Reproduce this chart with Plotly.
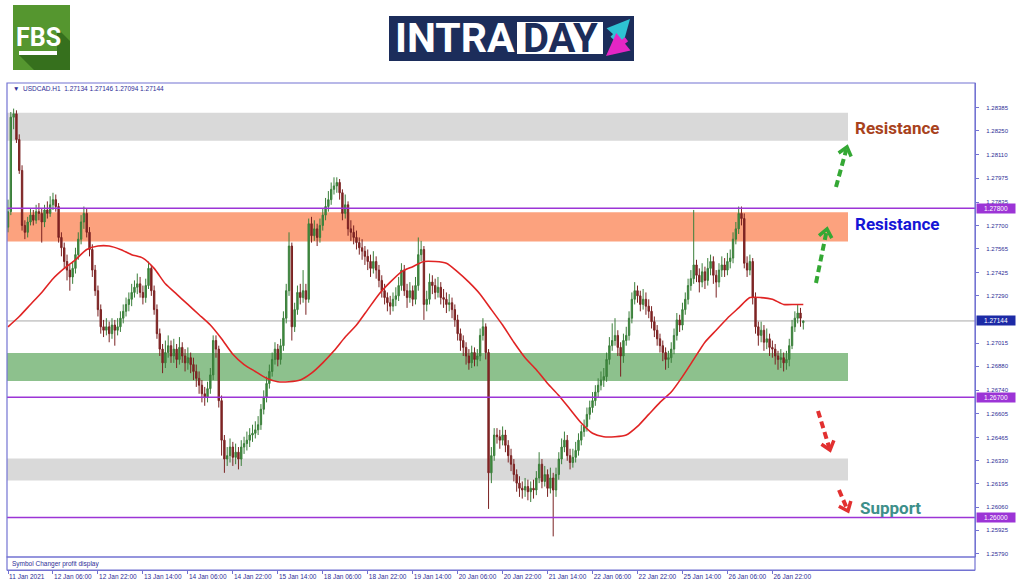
import plotly.graph_objects as go

# ---------------- data ----------------
symbol_header = "▼  USDCAD.H1  1.27134 1.27146 1.27094 1.27144"

opens = [
1.2769,1.2778,1.2833,1.2835,1.2820,1.2802,1.2770,1.2766,1.2772,1.2776,
1.2773,1.2778,1.2777,1.2772,1.2779,1.2777,1.2782,1.2785,1.2781,1.2763,
1.2757,1.2749,1.2744,1.2740,1.2745,1.2753,1.2762,1.2772,1.2777,1.2766,
1.2756,1.2744,1.2732,1.2721,1.2711,1.2709,1.2711,1.2707,1.2712,1.2709,
1.2711,1.2716,1.2720,1.2724,1.2727,1.2731,1.2734,1.2736,1.2731,1.2728,
1.2735,1.2745,1.2732,1.2721,1.2707,1.2698,1.2690,1.2696,1.2700,1.2694,
1.2698,1.2692,1.2699,1.2694,1.2690,1.2693,1.2689,1.2685,1.2681,1.2677,
1.2672,1.2670,1.2675,1.2683,1.2703,1.2698,1.2668,1.2645,1.2634,1.2636,
1.2641,1.2635,1.2638,1.2634,1.2641,1.2643,1.2645,1.2648,1.2649,1.2651,
1.2654,1.2663,1.2670,1.2678,1.2685,1.2692,1.2698,1.2692,1.2700,1.2716,
1.2732,1.2758,1.2711,1.2721,1.2731,1.2728,1.2732,1.2727,1.2771,1.2764,
1.2768,1.2763,1.2770,1.2776,1.2781,1.2785,1.2791,1.2793,1.2795,1.2789,
1.2777,1.2782,1.2768,1.2766,1.2763,1.2760,1.2757,1.2755,1.2752,1.2749,
1.2745,1.2749,1.2744,1.2738,1.2732,1.2728,1.2725,1.2723,1.2727,1.2729,
1.2735,1.2744,1.2732,1.2728,1.2732,1.2727,1.2735,1.2753,1.2756,1.2724,
1.2727,1.2737,1.2735,1.2731,1.2734,1.2728,1.2727,1.2724,1.2725,1.2721,
1.2715,1.2707,1.2703,1.2699,1.2694,1.2690,1.2696,1.2692,1.2694,1.2706,
1.2711,1.2696,1.2626,1.2636,1.2648,1.2647,1.2645,1.2648,1.2642,1.2636,
1.2631,1.2625,1.2620,1.2617,1.2616,1.2618,1.2615,1.2617,1.2616,1.2623,
1.2631,1.2621,1.2625,1.2617,1.2623,1.2616,1.2625,1.2634,1.2641,1.2645,
1.2636,1.2632,1.2635,1.2639,1.2645,1.2650,1.2653,1.2660,1.2664,1.2668,
1.2673,1.2677,1.2680,1.2682,1.2692,1.2700,1.2703,1.2706,1.2699,1.2694,
1.2703,1.2706,1.2716,1.2727,1.2732,1.2729,1.2724,1.2727,1.2723,1.2720,
1.2714,1.2709,1.2704,1.2700,1.2696,1.2692,1.2693,1.2698,1.2706,1.2715,
1.2712,1.2721,1.2727,1.2735,1.2739,1.2747,1.2741,1.2737,1.2743,1.2738,
1.2745,1.2749,1.2741,1.2737,1.2744,1.2747,1.2744,1.2749,1.2751,1.2762,
1.2768,1.2777,1.2774,1.2748,1.2744,1.2749,1.2728,1.2711,1.2706,1.2709,
1.2702,1.2704,1.2699,1.2698,1.2694,1.2692,1.2693,1.2690,1.2692,1.2700,
1.2711,1.2716,1.2719,1.27134]

highs = [
1.2785,1.2836,1.2838,1.2837,1.2823,1.2805,1.2773,1.2775,1.2780,1.2779,
1.2782,1.2783,1.2780,1.2782,1.2784,1.2787,1.2789,1.2788,1.2783,1.2766,
1.2760,1.2753,1.2747,1.2749,1.2757,1.2766,1.2776,1.2781,1.2780,1.2769,
1.2759,1.2747,1.2735,1.2724,1.2715,1.2716,1.2714,1.2716,1.2715,1.2716,
1.2720,1.2724,1.2728,1.2731,1.2736,1.2738,1.2742,1.2740,1.2735,1.2739,
1.2749,1.2747,1.2735,1.2724,1.2710,1.2701,1.2703,1.2706,1.2703,1.2704,
1.2701,1.2705,1.2702,1.2698,1.2699,1.2696,1.2693,1.2689,1.2685,1.2680,
1.2676,1.2679,1.2687,1.2706,1.2706,1.2700,1.2671,1.2648,1.2641,1.2646,
1.2644,1.2643,1.2641,1.2645,1.2647,1.2650,1.2652,1.2654,1.2656,1.2659,
1.2666,1.2674,1.2682,1.2689,1.2696,1.2702,1.2701,1.2704,1.2720,1.2736,
1.2766,1.2760,1.2725,1.2735,1.2736,1.2744,1.2736,1.2774,1.2775,1.2773,
1.2771,1.2774,1.2780,1.2786,1.2790,1.2795,1.2798,1.2798,1.2797,1.2791,
1.2788,1.2784,1.2773,1.2770,1.2767,1.2763,1.2762,1.2758,1.2756,1.2753,
1.2755,1.2752,1.2747,1.2741,1.2736,1.2731,1.2729,1.2731,1.2734,1.2740,
1.2748,1.2747,1.2736,1.2737,1.2735,1.2740,1.2763,1.2761,1.2758,1.2732,
1.2742,1.2741,1.2739,1.2740,1.2737,1.2733,1.2731,1.2730,1.2728,1.2724,
1.2718,1.2710,1.2706,1.2702,1.2698,1.2700,1.2699,1.2698,1.2710,1.2716,
1.2713,1.2698,1.2641,1.2652,1.2652,1.2651,1.2653,1.2651,1.2645,1.2640,
1.2634,1.2628,1.2624,1.2621,1.2623,1.2622,1.2621,1.2622,1.2627,1.2638,
1.2634,1.2630,1.2628,1.2629,1.2626,1.2629,1.2638,1.2646,1.2650,1.2648,
1.2640,1.2640,1.2644,1.2649,1.2654,1.2657,1.2664,1.2668,1.2673,1.2677,
1.2681,1.2685,1.2687,1.2696,1.2705,1.2713,1.2716,1.2709,1.2702,1.2707,
1.2711,1.2720,1.2731,1.2737,1.2735,1.2732,1.2733,1.2731,1.2727,1.2723,
1.2717,1.2712,1.2707,1.2703,1.2699,1.2697,1.2702,1.2710,1.2719,1.2718,
1.2725,1.2731,1.2739,1.2744,1.2779,1.2750,1.2745,1.2748,1.2746,1.2751,
1.2753,1.2752,1.2744,1.2748,1.2752,1.2751,1.2754,1.2756,1.2766,1.2772,
1.2781,1.2781,1.2777,1.2752,1.2753,1.2751,1.2731,1.2714,1.2714,1.2712,
1.2710,1.2707,1.2703,1.2701,1.2697,1.2698,1.2696,1.2697,1.2704,1.2715,
1.2720,1.2724,1.2722,1.27146]

lows = [
1.2766,1.2776,1.2826,1.2818,1.2800,1.2767,1.2762,1.2763,1.2770,1.2770,
1.2771,1.2773,1.2760,1.2769,1.2774,1.2775,1.2779,1.2778,1.2760,1.2752,
1.2745,1.2738,1.2732,1.2736,1.2742,1.2750,1.2759,1.2768,1.2763,1.2752,
1.2740,1.2729,1.2717,1.2707,1.2705,1.2706,1.2702,1.2704,1.2700,1.2706,
1.2708,1.2713,1.2717,1.2720,1.2723,1.2728,1.2730,1.2728,1.2724,1.2725,
1.2733,1.2729,1.2718,1.2704,1.2694,1.2684,1.2687,1.2693,1.2690,1.2690,
1.2687,1.2689,1.2690,1.2685,1.2686,1.2684,1.2680,1.2676,1.2672,1.2667,
1.2665,1.2667,1.2672,1.2680,1.2693,1.2664,1.2636,1.2626,1.2630,1.2632,
1.2630,1.2631,1.2628,1.2630,1.2637,1.2639,1.2641,1.2644,1.2646,1.2648,
1.2651,1.2660,1.2667,1.2675,1.2682,1.2689,1.2688,1.2689,1.2697,1.2713,
1.2729,1.2703,1.2708,1.2718,1.2724,1.2725,1.2718,1.2725,1.2760,1.2761,
1.2758,1.2760,1.2767,1.2773,1.2778,1.2782,1.2788,1.2789,1.2785,1.2773,
1.2774,1.2764,1.2761,1.2759,1.2756,1.2753,1.2750,1.2747,1.2744,1.2740,
1.2742,1.2739,1.2734,1.2728,1.2724,1.2720,1.2718,1.2720,1.2723,1.2726,
1.2732,1.2729,1.2722,1.2725,1.2723,1.2724,1.2732,1.2749,1.2715,1.2720,
1.2724,1.2730,1.2727,1.2728,1.2724,1.2722,1.2719,1.2720,1.2716,1.2711,
1.2703,1.2697,1.2694,1.2689,1.2686,1.2687,1.2688,1.2688,1.2691,1.2703,
1.2692,1.2605,1.2620,1.2633,1.2643,1.2640,1.2642,1.2638,1.2632,1.2627,
1.2621,1.2615,1.2612,1.2611,1.2612,1.2610,1.2609,1.2611,1.2613,1.2620,
1.2617,1.2618,1.2612,1.2614,1.2589,1.2612,1.2622,1.2631,1.2638,1.2633,
1.2628,1.2629,1.2632,1.2636,1.2642,1.2647,1.2650,1.2657,1.2661,1.2665,
1.2670,1.2674,1.2676,1.2679,1.2689,1.2697,1.2700,1.2694,1.2682,1.2690,
1.2700,1.2703,1.2713,1.2724,1.2725,1.2720,1.2721,1.2718,1.2716,1.2710,
1.2705,1.2700,1.2696,1.2691,1.2686,1.2687,1.2690,1.2695,1.2703,1.2708,
1.2709,1.2718,1.2724,1.2732,1.2736,1.2737,1.2731,1.2734,1.2733,1.2735,
1.2741,1.2736,1.2728,1.2734,1.2740,1.2740,1.2741,1.2745,1.2748,1.2759,
1.2765,1.2770,1.2745,1.2740,1.2741,1.2724,1.2707,1.2700,1.2702,1.2697,
1.2698,1.2694,1.2693,1.2689,1.2686,1.2687,1.2685,1.2686,1.2688,1.2698,
1.2708,1.2713,1.2711,1.27094]

closes = [
1.2778,1.2833,1.2835,1.2820,1.2802,1.2770,1.2766,1.2772,1.2776,1.2773,
1.2778,1.2777,1.2772,1.2779,1.2777,1.2782,1.2785,1.2781,1.2763,1.2757,
1.2749,1.2744,1.2740,1.2745,1.2753,1.2762,1.2772,1.2777,1.2766,1.2756,
1.2744,1.2732,1.2721,1.2711,1.2709,1.2711,1.2707,1.2712,1.2709,1.2711,
1.2716,1.2720,1.2724,1.2727,1.2731,1.2734,1.2736,1.2731,1.2728,1.2735,
1.2745,1.2732,1.2721,1.2707,1.2698,1.2690,1.2696,1.2700,1.2694,1.2698,
1.2692,1.2699,1.2694,1.2690,1.2693,1.2689,1.2685,1.2681,1.2677,1.2672,
1.2670,1.2675,1.2683,1.2703,1.2698,1.2668,1.2645,1.2634,1.2636,1.2641,
1.2635,1.2638,1.2634,1.2641,1.2643,1.2645,1.2648,1.2649,1.2651,1.2654,
1.2663,1.2670,1.2678,1.2685,1.2692,1.2698,1.2692,1.2700,1.2716,1.2732,
1.2758,1.2711,1.2721,1.2731,1.2728,1.2732,1.2727,1.2771,1.2764,1.2768,
1.2763,1.2770,1.2776,1.2781,1.2785,1.2791,1.2793,1.2795,1.2789,1.2777,
1.2782,1.2768,1.2766,1.2763,1.2760,1.2757,1.2755,1.2752,1.2749,1.2745,
1.2749,1.2744,1.2738,1.2732,1.2728,1.2725,1.2723,1.2727,1.2729,1.2735,
1.2744,1.2732,1.2728,1.2732,1.2727,1.2735,1.2753,1.2756,1.2724,1.2727,
1.2737,1.2735,1.2731,1.2734,1.2728,1.2727,1.2724,1.2725,1.2721,1.2715,
1.2707,1.2703,1.2699,1.2694,1.2690,1.2696,1.2692,1.2694,1.2706,1.2711,
1.2696,1.2626,1.2636,1.2648,1.2647,1.2645,1.2648,1.2642,1.2636,1.2631,
1.2625,1.2620,1.2617,1.2616,1.2618,1.2615,1.2617,1.2616,1.2623,1.2631,
1.2621,1.2625,1.2617,1.2623,1.2616,1.2625,1.2634,1.2641,1.2645,1.2636,
1.2632,1.2635,1.2639,1.2645,1.2650,1.2653,1.2660,1.2664,1.2668,1.2673,
1.2677,1.2680,1.2682,1.2692,1.2700,1.2703,1.2706,1.2699,1.2694,1.2703,
1.2706,1.2716,1.2727,1.2732,1.2729,1.2724,1.2727,1.2723,1.2720,1.2714,
1.2709,1.2704,1.2700,1.2696,1.2692,1.2693,1.2698,1.2706,1.2715,1.2712,
1.2721,1.2727,1.2735,1.2739,1.2747,1.2741,1.2737,1.2743,1.2738,1.2745,
1.2749,1.2741,1.2737,1.2744,1.2747,1.2744,1.2749,1.2751,1.2762,1.2768,
1.2777,1.2774,1.2748,1.2744,1.2749,1.2728,1.2711,1.2706,1.2709,1.2702,
1.2704,1.2699,1.2698,1.2694,1.2692,1.2693,1.2690,1.2692,1.2700,1.2711,
1.2716,1.2719,1.2716,1.27144]

bar_index = list(range(len(closes)))

# moving average (red line), read every 4th bar
ma_bars = [0,4,8,12,16,20,24,28,32,36,40,44,48,52,56,60,64,68,72,76,80,84,88,92,
           96,100,104,108,112,116,120,124,128,132,136,140,144,148,152,156,160,164,
           168,172,176,180,184,188,192,196,200,204,208,212,216,220,224,228,232,236,
           240,244,248,252,256,260,264,268,272,276,280,283]
ma_values = [1.2711,1.2717,1.2724,1.2731,1.2739,1.2745,1.2750,1.2756,1.2758,1.2758,
             1.2756,1.2753,1.2751,1.2745,1.2736,1.2730,1.2724,1.2718,1.2712,1.2704,
             1.2695,1.2689,1.2685,1.2681,1.2679,1.2679,1.2680,1.2684,1.2690,1.2697,
             1.2705,1.2712,1.2721,1.2730,1.2737,1.2743,1.2746,1.2749,1.2749,1.2748,
             1.2743,1.2737,1.2730,1.2721,1.2712,1.2702,1.2693,1.2686,1.2678,1.2671,
             1.2663,1.2655,1.2649,1.2647,1.2647,1.2648,1.2653,1.2660,1.2667,1.2673,
             1.2682,1.2692,1.2702,1.2709,1.2716,1.2722,1.2728,1.2728,1.2727,1.2724,
             1.2724,1.2724]

tick_bars = [0,16,32,48,64,80,96,112,128,144,160,176,192,208,224,240,256,272]
tick_labels = ["11 Jan 2021","12 Jan 06:00","12 Jan 22:00","13 Jan 14:00",
               "14 Jan 06:00","14 Jan 22:00","15 Jan 14:00","18 Jan 06:00",
               "18 Jan 22:00","19 Jan 14:00","20 Jan 06:00","20 Jan 22:00",
               "21 Jan 14:00","22 Jan 06:00","22 Jan 22:00","25 Jan 14:00",
               "26 Jan 06:00","26 Jan 22:00"]

price_ticks = [1.28385,1.28250,1.28110,1.27975,1.27835,1.27700,1.27565,1.27425,
               1.27290,1.27015,1.26880,1.26740,1.26605,1.26465,1.26330,1.26195,
               1.26060,1.25925,1.25790]

level_lines = [1.27800, 1.26700, 1.26000]
current_price = 1.27144

zone_lows  = [1.28193, 1.27607, 1.26794, 1.26215]
zone_highs = [1.28356, 1.27776, 1.26957, 1.26343]
zone_colors = ["#d9d9d9", "#fca27e", "#8dc18d", "#d9d9d9"]

zone_labels = ["Resistance", "Resistance", "Support"]
zone_label_colors = ["#a8421c", "#1515d6", "#3d8f8a"]

# ---------------- layout geometry ----------------
W, H = 1024, 587
PL, PR, PT, PB = 7, 975, 83, 570
PW, PH = PR - PL, PB - PT
MAIN_BOTTOM_PX = 557

def px(x):
    return (x - PL) / PW

def py(y):
    return (PB - y) / PH

main_dom0 = py(MAIN_BOTTOM_PX)
FRAME = "#7373d2"
TXT = "#2e2e96"
PURPLE = "#9c34d6"

fig = go.Figure()

fig.add_trace(go.Candlestick(
    x=bar_index, open=opens, high=highs, low=lows, close=closes,
    increasing=dict(line=dict(color="#3b7f3b", width=1), fillcolor="#3f8f3f"),
    decreasing=dict(line=dict(color="#7a2222", width=1), fillcolor="#862525"),
    whiskerwidth=0, hoverinfo="skip", showlegend=False,
))

fig.add_trace(go.Scatter(
    x=ma_bars, y=ma_values, mode="lines",
    line=dict(color="#e02424", width=1.6, shape="spline", smoothing=0.6),
    hoverinfo="skip", showlegend=False,
))

shapes = []
for lo, hi, col in zip(zone_lows, zone_highs, zone_colors):
    shapes.append(dict(type="rect", xref="paper", yref="y", x0=0, x1=px(848),
                       y0=lo, y1=hi, fillcolor=col, line=dict(width=0), layer="below"))
shapes.append(dict(type="line", xref="paper", yref="y", x0=0, x1=1,
                   y0=current_price, y1=current_price,
                   line=dict(color="#a8a8a8", width=1), layer="below"))
for lv in level_lines:
    shapes.append(dict(type="line", xref="paper", yref="y", x0=0, x1=1, y0=lv, y1=lv,
                       line=dict(color=PURPLE, width=1.6)))
shapes.append(dict(type="rect", xref="paper", yref="paper", x0=0, x1=1, y0=main_dom0, y1=1,
                   line=dict(color=FRAME, width=1.2)))
shapes.append(dict(type="rect", xref="paper", yref="paper", x0=0, x1=1, y0=0, y1=main_dom0,
                   line=dict(color=FRAME, width=1.2)))

arrows = [((836, 187), (847, 147), "#34a834"),
          ((816, 283), (827, 229), "#34a834"),
          ((818, 411), (830, 450), "#e23030"),
          ((839, 490), (848, 511), "#e23030")]
for (tx, ty), (hx, hy), col in arrows:
    dx, dy = hx - tx, hy - ty
    L = (dx * dx + dy * dy) ** 0.5
    ux, uy = dx / L, dy / L
    ex, ey = hx - ux * 3, hy - uy * 3
    shapes.append(dict(type="line", xref="paper", yref="paper",
                       x0=px(tx), y0=py(ty), x1=px(ex), y1=py(ey),
                       line=dict(color=col, width=4, dash="7px,4px")))
    back, half = 8, 6.5
    p1 = (hx - ux * back - uy * half, hy - uy * back + ux * half)
    p3 = (hx - ux * back + uy * half, hy - uy * back - ux * half)
    path = "M {:.5f},{:.5f} L {:.5f},{:.5f} L {:.5f},{:.5f}".format(
        px(p1[0]), py(p1[1]), px(hx), py(hy), px(p3[0]), py(p3[1]))
    shapes.append(dict(type="path", xref="paper", yref="paper", path=path,
                       line=dict(color=col, width=3.5)))

# FBS logo
shapes.append(dict(type="rect", xref="paper", yref="paper", x0=px(13), x1=px(70),
                   y0=py(70), y1=py(5), fillcolor="#55962f", line=dict(width=0)))
shadow = "M {},{} L {},{} L {},{} L {},{} L {},{} L {},{} Z".format(
    px(57), py(28), px(70), py(41), px(70), py(70), px(34), py(70), px(19), py(55), px(57), py(55))
shapes.append(dict(type="path", xref="paper", yref="paper", path=shadow,
                   fillcolor="#36701d", line=dict(width=0)))
shapes.append(dict(type="rect", xref="paper", yref="paper", x0=px(19), x1=px(57),
                   y0=py(55), y1=py(51), fillcolor="white", line=dict(width=0)))

# INTRADAY logo
shapes.append(dict(type="rect", xref="paper", yref="paper", x0=px(389), x1=px(634),
                   y0=py(61), y1=py(16), fillcolor="#1c2d5b", line=dict(width=0)))
shapes.append(dict(type="rect", xref="paper", yref="paper", x0=px(517), x1=px(603),
                   y0=py(54), y1=py(22), fillcolor="white", line=dict(width=0)))

annotations = []
for text, col, (lx, ly) in zip(zone_labels, zone_label_colors, [(853, 128), (853, 224), (858, 508)]):
    annotations.append(dict(xref="paper", yref="paper", x=px(lx), y=py(ly), text="<b>" + text + "</b>",
                            showarrow=False, xanchor="left", yanchor="middle",
                            font=dict(family="Roboto", size=17, color=col)))
for lv in level_lines:
    annotations.append(dict(xref="paper", yref="y", x=1, y=lv, text="{:.5f}".format(lv),
                            showarrow=False, xanchor="left", yanchor="middle", xshift=1,
                            bgcolor=PURPLE, width=38, height=9, borderpad=0,
                            font=dict(family="Liberation Sans", size=6.5, color="white")))
annotations.append(dict(xref="paper", yref="y", x=1, y=current_price, text="{:.5f}".format(current_price),
                        showarrow=False, xanchor="left", yanchor="middle", xshift=1,
                        bgcolor="#1c2aa6", width=38, height=9, borderpad=0,
                        font=dict(family="Liberation Sans", size=6.5, color="white")))
annotations.append(dict(xref="paper", yref="paper", x=px(11), y=py(89), text=symbol_header,
                        showarrow=False, xanchor="left", yanchor="middle",
                        font=dict(family="Liberation Sans", size=6.5, color=TXT)))
annotations.append(dict(xref="paper", yref="paper", x=px(10), y=py(564), text="Symbol Changer profit display",
                        showarrow=False, xanchor="left", yanchor="middle",
                        font=dict(family="Liberation Sans", size=6.5, color=TXT)))
annotations.append(dict(xref="paper", yref="paper", x=px(38), y=py(37), text="<b>FBS</b>",
                        showarrow=False, xanchor="center", yanchor="middle",
                        font=dict(family="Roboto", size=25, color="white")))
annotations.append(dict(xref="paper", yref="paper", x=px(455), y=py(38), text="<b>INTRA</b>",
                        showarrow=False, xanchor="center", yanchor="middle",
                        font=dict(family="Roboto", size=41, color="white")))
annotations.append(dict(xref="paper", yref="paper", x=px(560), y=py(38), text="<b>DAY</b>",
                        showarrow=False, xanchor="center", yanchor="middle",
                        font=dict(family="Roboto", size=40, color="#1c2d5b")))
annotations.append(dict(xref="paper", yref="paper", x=px(630), y=py(19), ax=-19, ay=21, text="",
                        showarrow=True, arrowhead=2, arrowsize=0.9, arrowwidth=5, arrowcolor="#2ec3d3"))
annotations.append(dict(xref="paper", yref="paper", x=px(606), y=py(56), ax=22, ay=-18, text="",
                        showarrow=True, arrowhead=2, arrowsize=0.9, arrowwidth=5, arrowcolor="#e526c5"))

fig.update_layout(
    width=W, height=H,
    margin=dict(l=PL, r=W - PR, t=PT, b=H - PB, autoexpand=False),
    paper_bgcolor="white", plot_bgcolor="white",
    showlegend=False,
    shapes=shapes, annotations=annotations,
    xaxis=dict(
        range=[-0.36, 344.1], anchor="free", position=0, automargin=False,
        rangeslider=dict(visible=False),
        tickmode="array", tickvals=tick_bars, ticktext=tick_labels,
        ticks="outside", ticklen=3, tickcolor=FRAME, tickwidth=1,
        ticklabelposition="outside right", tickangle=0,
        tickfont=dict(family="Liberation Sans", size=6.5, color=TXT),
        showgrid=False, zeroline=False, showline=True, linecolor=FRAME, linewidth=1.2,
    ),
    yaxis=dict(
        domain=[main_dom0, 1], range=[1.25770, 1.28529], side="right", automargin=False,
        tickmode="array", tickvals=price_ticks, tickformat=".5f",
        ticks="outside", ticklen=3, tickcolor=FRAME, tickwidth=1,
        ticklabelstandoff=6,
        tickfont=dict(family="Liberation Sans", size=6, color=TXT),
        showgrid=False, zeroline=False, showline=True, linecolor=FRAME, linewidth=1.2,
    ),
)

fig.write_html("out.html", config={"displayModeBar": False},
               post_script="document.body.style.margin='0';document.body.style.overflow='hidden';")
